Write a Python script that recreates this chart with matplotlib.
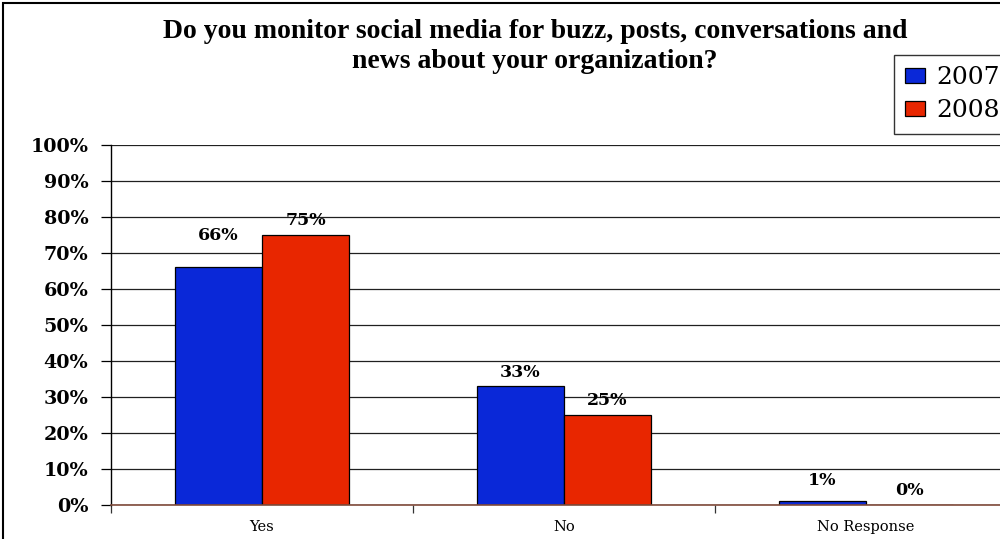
import matplotlib
matplotlib.use("Agg")
import matplotlib.pyplot as plt
import numpy as np
from matplotlib.patches import Rectangle

categories = ["Yes", "No", "No Response"]
series_names = ["2007", "2008"]
values_2007 = [66, 33, 1]
values_2008 = [75, 25, 0]
y_ticks = [0, 10, 20, 30, 40, 50, 60, 70, 80, 90, 100]
title = "Do you monitor social media for buzz, posts, conversations and\nnews about your organization?"

colors = ["#0A28D8", "#E82600"]
label_offsets_2007 = [17, 4, 9]
label_offsets_2008 = [4, 4, 4]

fig = plt.figure(figsize=(10, 5.39), dpi=100)
ax = fig.add_axes([0.111, 0.0631, 0.906, 0.668])

x = np.arange(len(categories))
w = 0.288
b1 = ax.bar(x - w / 2, values_2007, w, color=colors[0], edgecolor="black", linewidth=0.9, label=series_names[0], zorder=3)
b2 = ax.bar(x + w / 2, values_2008, w, color=colors[1], edgecolor="black", linewidth=0.9, label=series_names[1], zorder=3)

lab_font = dict(family="DejaVu Serif", weight="bold", size=12.5)
for bars, vals, offs in [(b1, values_2007, label_offsets_2007), (b2, values_2008, label_offsets_2008)]:
    for r, v, o in zip(bars, vals, offs):
        ax.annotate(f"{v}%", (r.get_x() + r.get_width() / 2, v), xytext=(0, o),
                    textcoords="offset points", ha="center", va="bottom", **lab_font)

ax.set_xlim(-0.5, 2.5)
ax.set_ylim(0, 100)
ax.set_yticks(y_ticks)
ax.set_yticklabels([f"{t}%" for t in y_ticks], fontfamily="DejaVu Serif", fontweight="bold", fontsize=13.8)
ax.yaxis.grid(True, color="#202020", linewidth=0.9, zorder=0)
ax.set_axisbelow(True)
ax.tick_params(axis="y", direction="out", length=7.2, width=0.9, color="black", pad=9)

ax.set_xticks([-0.5, 0.5, 1.5, 2.5])
ax.set_xticklabels([])
ax.set_xticks(x, minor=True)
ax.set_xticklabels(categories, minor=True, fontfamily="DejaVu Serif", fontsize=10.5)
ax.tick_params(axis="x", which="major", direction="out", length=6, width=0.9, color="#333333")
ax.tick_params(axis="x", which="minor", length=0, pad=11)

for s in ["top", "right"]:
    ax.spines[s].set_visible(False)
ax.spines["left"].set_color("black")
ax.spines["left"].set_linewidth(1.0)
ax.spines["bottom"].set_color("#7F4A3A")
ax.spines["bottom"].set_linewidth(1.2)
ax.spines["bottom"].set_zorder(4)

fig.text(0.535, 0.914, title, ha="center", va="center", fontfamily="Liberation Serif",
         fontweight="bold", fontsize=20, linespacing=1.28)

leg = fig.legend(handles=[b1, b2], labels=series_names, loc="upper left",
                 bbox_to_anchor=(0.894, 1 - 55 / 539), frameon=True, fancybox=False,
                 edgecolor="black", prop=dict(family="DejaVu Serif", size=18),
                 handlelength=0.8, handleheight=0.6, handletextpad=0.45,
                 borderpad=0.45, labelspacing=0.4, borderaxespad=0)
leg.get_frame().set_linewidth(1.0)

fig.patches.append(Rectangle((3 / 1000, -0.05), 1.1, 1 - 3 / 539 + 0.05, transform=fig.transFigure,
                             fill=False, edgecolor="black", linewidth=1.5))

fig.savefig("out.png", dpi=100)
